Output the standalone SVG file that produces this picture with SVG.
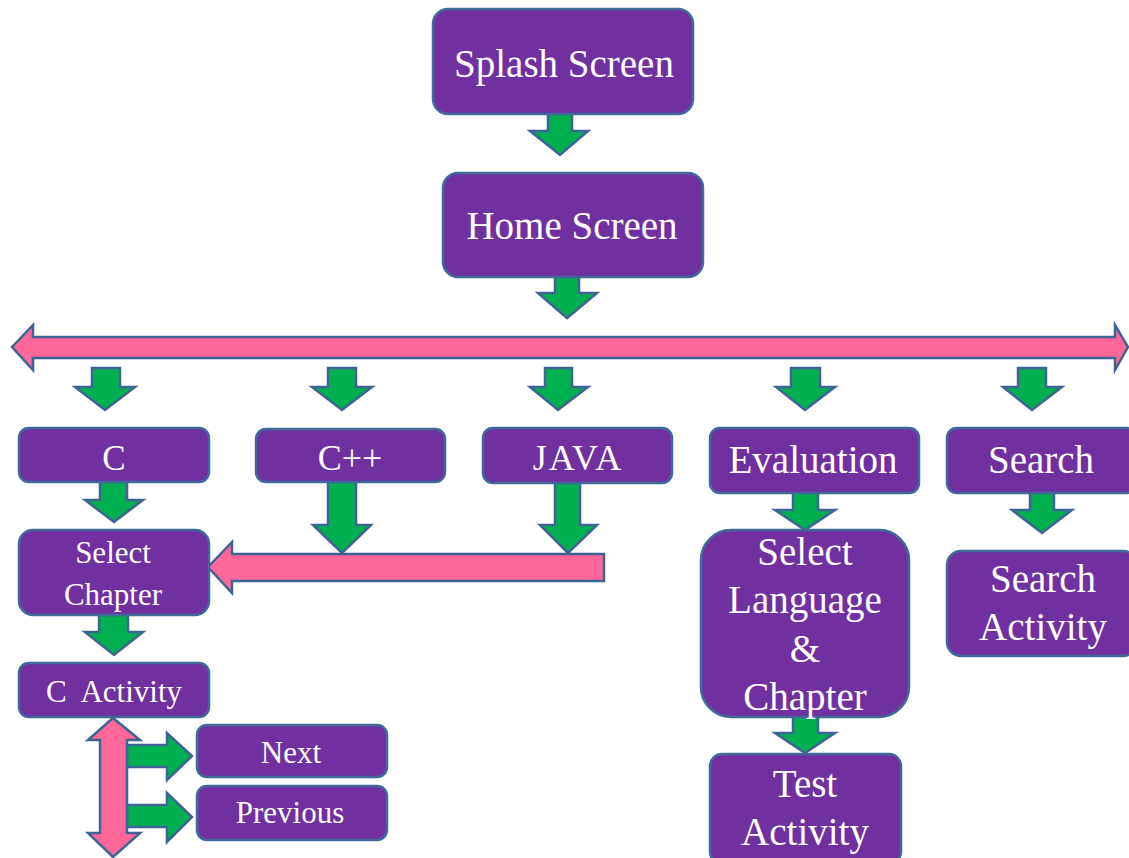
<svg xmlns="http://www.w3.org/2000/svg" width="1129" height="858" viewBox="0 0 1129 858">
  <style>
    .box { fill: #7030A0; stroke: #41689A; stroke-width: 2.5; }
    .lbl { fill: #FFFFFF; font-family: "Liberation Serif", "Times New Roman", serif; text-anchor: middle; }
    .go { fill: #00B050; stroke: #3E6493; stroke-width: 2.5; stroke-linejoin: miter; }
    .flow { fill: #FF6699; stroke: #3E6493; stroke-width: 2.5; stroke-linejoin: miter; }
  </style>

  <!-- connectors -->
  <g id="connectors">
    <!-- horizontal distribution bar -->
    <polygon class="flow" points="12,347 33,325 33,337 1115,337 1115,325 1128,347 1115,370 1115,358 33,358 33,370"/>
    <!-- shared return bar into Select Chapter -->
    <polygon class="flow" points="208,567 232,542 232,554 604,554 604,581 232,581 232,593"/>

    <!-- down arrows -->
    <polygon class="go" points="548,114 572,114 572,131 588,131 560,155 530,131 548,131"/>
    <polygon class="go" points="555,277 579,277 579,293 597,293 567,318 538,293 555,293"/>

    <polygon class="go" points="92,368 120,368 120,387 135,387 105,410 75,387 92,387"/>
    <polygon class="go" points="328,368 356,368 356,387 372,387 342,410 312,387 328,387"/>
    <polygon class="go" points="545,368 572,368 572,387 588,387 558,410 530,387 545,387"/>
    <polygon class="go" points="791,368 820,368 820,387 835,387 805,410 776,387 791,387"/>
    <polygon class="go" points="1018,368 1046,368 1046,387 1062,387 1032,410 1003,387 1018,387"/>

    <polygon class="go" points="100,482 127,482 127,500 143,500 114,522 85,500 100,500"/>
    <polygon class="go" points="328,482 356,482 356,525 371,525 342,553 313,525 328,525"/>
    <polygon class="go" points="555,483 580,483 580,525 597,525 568,553 540,525 555,525"/>
    <polygon class="go" points="99,615 128,615 128,632 143,632 114,655 85,632 99,632"/>

    <polygon class="go" points="793,493 818,493 818,510 835,510 805,530 775,510 793,510"/>
    <polygon class="go" points="793,717 818,717 818,733 835,733 805,753 775,733 793,733"/>
    <polygon class="go" points="1030,493 1054,493 1054,510 1072,510 1042,533 1012,510 1030,510"/>

    <!-- side arrows to Next / Previous -->
    <polygon class="go" points="127,745 167,745 167,733 192,756 167,780 167,767 127,767"/>
    <polygon class="go" points="127,805 167,805 167,793 192,817 167,842 167,827 127,827"/>

    <!-- vertical two-way arrow under C Activity -->
    <polygon class="flow" points="113,718 140,740 127,740 127,833 140,833 113,857 88,833 100,833 100,740 88,740"/>
  </g>

  <g id="splash">
    <rect class="box" x="433" y="9" width="260" height="105" rx="15"/>
    <text class="lbl" x="564" y="77" font-size="39">Splash Screen</text>
  </g>
  <g id="home">
    <rect class="box" x="443" y="173" width="260" height="104" rx="15"/>
    <text class="lbl" x="572" y="239" font-size="39">Home Screen</text>
  </g>

  <g id="c">
    <rect class="box" x="19" y="428" width="190" height="54" rx="10"/>
    <text class="lbl" x="114" y="470" font-size="35">C</text>
  </g>
  <g id="cpp">
    <rect class="box" x="256" y="429" width="189" height="53" rx="10"/>
    <text class="lbl" x="350" y="470" font-size="36">C++</text>
  </g>
  <g id="java">
    <rect class="box" x="483" y="428" width="189" height="55" rx="10"/>
    <text class="lbl" x="578" y="470" font-size="36" letter-spacing="2">JAVA</text>
  </g>
  <g id="evaluation">
    <rect class="box" x="710" y="428" width="209" height="65" rx="10"/>
    <text class="lbl" x="813" y="473" font-size="39">Evaluation</text>
  </g>
  <g id="search">
    <rect class="box" x="947" y="428" width="190" height="65" rx="10"/>
    <text class="lbl" x="1041" y="473" font-size="39">Search</text>
  </g>

  <g id="select-chapter">
    <rect class="box" x="19" y="530" width="190" height="85" rx="14"/>
    <text class="lbl" x="113" y="563" font-size="31">Select</text>
    <text class="lbl" x="113" y="605" font-size="31">Chapter</text>
  </g>
  <g id="c-activity">
    <rect class="box" x="19" y="663" width="190" height="54" rx="10"/>
    <text class="lbl" x="114" y="702" font-size="31" xml:space="preserve">C  Activity</text>
  </g>
  <g id="next">
    <rect class="box" x="197" y="725" width="190" height="52" rx="10"/>
    <text class="lbl" x="291" y="763" font-size="31">Next</text>
  </g>
  <g id="previous">
    <rect class="box" x="197" y="786" width="190" height="54" rx="10"/>
    <text class="lbl" x="290" y="823" font-size="31">Previous</text>
  </g>

  <g id="select-language">
    <rect class="box" x="701" y="530" width="208" height="187" rx="30"/>
    <text class="lbl" x="805" y="565" font-size="39">Select</text>
    <text class="lbl" x="805" y="613" font-size="39">Language</text>
    <text class="lbl" x="805" y="662" font-size="39">&amp;</text>
    <text class="lbl" x="805" y="710" font-size="39">Chapter</text>
  </g>
  <g id="test-activity">
    <rect class="box" x="710" y="754" width="191" height="110" rx="12"/>
    <text class="lbl" x="805" y="797" font-size="39">Test</text>
    <text class="lbl" x="805" y="845" font-size="39">Activity</text>
  </g>
  <g id="search-activity">
    <rect class="box" x="947" y="551" width="190" height="105" rx="14"/>
    <text class="lbl" x="1043" y="592" font-size="39">Search</text>
    <text class="lbl" x="1043" y="640" font-size="39">Activity</text>
  </g>
</svg>
